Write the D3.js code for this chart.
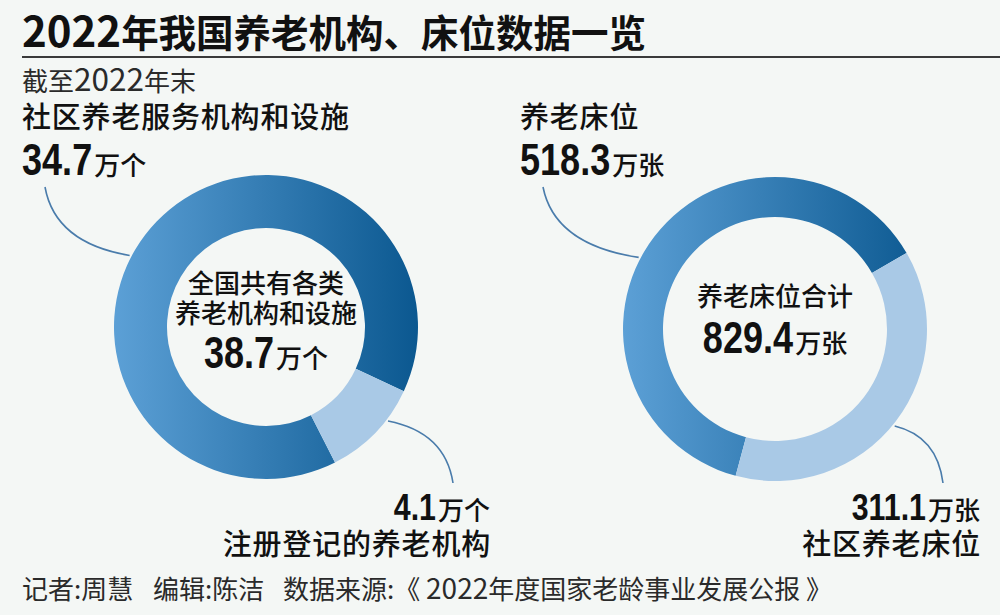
<!DOCTYPE html>
<html><head><meta charset="utf-8">
<script src="https://cdn.jsdelivr.net/npm/d3@7"></script>
<style>
html,body{margin:0;padding:0;background:#f4f7f5;}
svg{display:block;}
</style></head><body>
<svg id="c" width="1000" height="615"></svg>
<script>
// ---- data ----
const titleText = "2022年我国养老机构、床位数据一览";
const subtitleText = "截至2022年末";
const institutionCategories = ["社区养老服务机构和设施", "注册登记的养老机构"];
const institutionValues = [34.7, 4.1];
const institutionUnit = "万个";
const institutionTotalLabel = ["全国共有各类", "养老机构和设施"];
const institutionTotal = 38.7;
const bedCategories = ["养老床位", "社区养老床位"];
const bedValues = [518.3, 311.1];
const bedUnit = "万张";
const bedTotalLabel = ["养老床位合计"];
const bedTotal = 829.4;
const footerParts = ["记者:周慧", "编辑:陈洁", "数据来源:《 2022年度国家老龄事业发展公报 》"];

// ---- style ----
const FONT = "'Noto Sans CJK SC','Noto Sans CJK JP',sans-serif";
const NUMFONT = "'Liberation Sans','Arial',sans-serif";
const NUM_SQUEEZE = 0.82;
const INK = "#111";
const LIGHT = "#a9c9e6";
const LINE = "#4a7cab";

const svg = d3.select("#c");
const defs = svg.append("defs");
svg.append("rect").attr("width", 1000).attr("height", 615).attr("fill", "#f4f7f5");

function mixed(textSel, str, size, digitSize) {
  str.split(/(\d+)/).filter(s => s.length).forEach(part => {
    const t = textSel.append("tspan").text(part);
    if (/^\d+$/.test(part)) t.attr("font-size", digitSize);
  });
}

// title
const title = svg.append("text").attr("x", 22).attr("y", 47)
  .attr("font-family", FONT).attr("font-size", 37.5).attr("font-weight", 700).attr("fill", INK);
mixed(title, titleText, 37.5, 42);
svg.append("line").attr("x1", 22).attr("x2", 1000).attr("y1", 57).attr("y2", 57)
  .attr("stroke", "#3a3a3a").attr("stroke-width", 2);
const sub = svg.append("text").attr("x", 22).attr("y", 91)
  .attr("font-family", FONT).attr("font-size", 26).attr("font-weight", 400).attr("fill", "#2a2a2a");
mixed(sub, subtitleText, 26, 31.5);

// footer
const footerX = [22, 153, 283];
footerParts.forEach((p, i) => {
  const t = svg.append("text").attr("x", footerX[i]).attr("y", 599)
    .attr("font-family", FONT).attr("font-size", 26).attr("font-weight", 400).attr("fill", "#2a2a2a");
  mixed(t, p, 26, 28);
});

function numberLabel(parent, x, y, anchor, value, unit, numSize) {
  const g = parent.append("g");
  const ng = g.append("g");
  const nt = ng.append("text").attr("x", 0).attr("y", 0).attr("fill", INK)
    .attr("font-family", NUMFONT).attr("font-weight", 700).attr("font-size", numSize)
    .text(d3.format(".1f")(value));
  const nw = nt.node().getComputedTextLength() * NUM_SQUEEZE;
  const ut = g.append("text").attr("y", y).attr("fill", INK)
    .attr("font-family", FONT).attr("font-weight", 500).attr("font-size", 26).text(unit);
  const uw = ut.node().getComputedTextLength();
  const gap = 2;
  const total = nw + gap + uw;
  const sx = anchor === "start" ? x : anchor === "end" ? x - total : x - total / 2;
  ng.attr("transform", `translate(${sx},${y}) scale(${NUM_SQUEEZE},1)`);
  ut.attr("x", sx + nw + gap);
  return g;
}
function plainLabel(x, y, anchor, str, size) {
  return svg.append("text").attr("x", x).attr("y", y).attr("text-anchor", anchor)
    .attr("font-family", FONT).attr("font-weight", 500).attr("font-size", size)
    .attr("letter-spacing", 0.8).attr("fill", INK).text(str);
}

function donut(cfg) {
  const g = svg.append("g").attr("transform", `translate(${cfg.cx},${cfg.cy})`);
  const grad = defs.append("linearGradient").attr("id", cfg.id)
    .attr("gradientUnits", "userSpaceOnUse")
    .attr("x1", -cfg.ro).attr("x2", cfg.ro).attr("y1", 0).attr("y2", 0);
  grad.append("stop").attr("offset", 0).attr("stop-color", "#5ca0d6");
  grad.append("stop").attr("offset", 1).attr("stop-color", "#0b5890");

  const start = cfg.start * Math.PI / 180;
  const pie = d3.pie().sort(null).value(d => d).startAngle(start).endAngle(start + 2 * Math.PI);
  const arc = d3.arc().innerRadius(cfg.ri).outerRadius(cfg.ro);
  g.selectAll("path.slice").data(pie(cfg.values)).join("path").attr("class", "slice")
    .attr("d", arc)
    .attr("fill", (d, i) => i === 0 ? `url(#${cfg.id})` : LIGHT);

  // center text
  cfg.centerLines.forEach((s, i) => {
    g.append("text").attr("x", 0).attr("y", cfg.centerY[i] - cfg.cy).attr("text-anchor", "middle")
      .attr("font-family", FONT).attr("font-weight", 500).attr("font-size", 26).attr("fill", INK).text(s);
  });
  numberLabel(g, 0, cfg.centerY[cfg.centerLines.length] - cfg.cy, "middle", cfg.total, cfg.unit, 44);

  // labels + leaders
  const pt = a => {
    const r = a * Math.PI / 180;
    return [cfg.cx + (cfg.ro + 2) * Math.sin(r), cfg.cy - (cfg.ro + 2) * Math.cos(r)];
  };
  plainLabel(cfg.topX, 128, "start", cfg.categories[0], 29);
  numberLabel(svg, cfg.topX, 175, "start", cfg.values[0], cfg.unit, 44);
  numberLabel(svg, cfg.botX, 520, "end", cfg.values[1], cfg.unit, 37);
  plainLabel(cfg.botX + 1, 555, "end", cfg.categories[1], 29);

  const leader = (lab, ang) => {
    const a = pt(ang);
    const c = [lab[0] + 0.12 * (a[0] - lab[0]), a[1] + 0.18 * (lab[1] - a[1])];
    const p = d3.path();
    p.moveTo(lab[0], lab[1]);
    p.quadraticCurveTo(c[0], c[1], a[0], a[1]);
    svg.append("path").attr("d", p.toString()).attr("fill", "none")
      .attr("stroke", LINE).attr("stroke-width", 1.6);
  };
  leader([cfg.topX + 23, 187], cfg.leaderAngles[0]);
  leader([cfg.botX - 37, 483], cfg.leaderAngles[1]);
}

donut({
  id: "gradL", cx: 266, cy: 327, ro: 152, ri: 99, start: 153,
  values: institutionValues, categories: institutionCategories, unit: institutionUnit,
  total: institutionTotal, centerLines: institutionTotalLabel, centerY: [293, 323, 368],
  topX: 22, botX: 490, leaderAngles: [297.7, 127.6]
});
donut({
  id: "gradR", cx: 775, cy: 329, ro: 152, ri: 112, start: 195,
  values: bedValues, categories: bedCategories, unit: bedUnit,
  total: bedTotal, centerLines: bedTotalLabel, centerY: [306, 353],
  topX: 520, botX: 980, leaderAngles: [297.7, 129]
});
</script>
</body></html>
